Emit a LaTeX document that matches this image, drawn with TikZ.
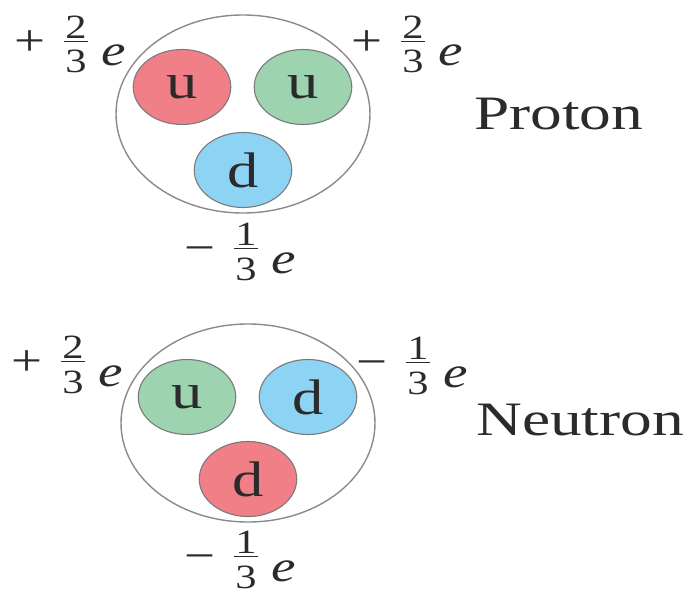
\documentclass[tikz,border=0pt]{standalone}
\usepackage{fontspec}
\setmainfont{Liberation Serif}
\usetikzlibrary{shapes.geometric}
\definecolor{qred}{HTML}{F07F88}
\definecolor{qgreen}{HTML}{9DD3AE}
\definecolor{qblue}{HTML}{8DD4F4}
\definecolor{ink}{HTML}{2B2B2B}
\definecolor{rim}{HTML}{8A8A8A}
\definecolor{qrim}{HTML}{7A7A7A}
% stacked fraction: numerator, bar, denominator; baseline = denominator baseline
\newcommand{\stackfrac}[2]{{\fontsize{34}{34}\selectfont
  \raisebox{-7pt}{\vbox{\hbox to 19pt{\hss #1\hss}\kern3pt\hrule height 0.8pt\kern8.5pt\hbox to 19pt{\hss #2\hss}}}}}
\newcommand{\chg}[3]{{\fontsize{44}{50}\selectfont\raisebox{10.5pt}{#1}\hspace{15pt}\stackfrac{#2}{#3}\hspace{11pt}\textit{e}}}
\begin{document}
\begin{tikzpicture}[x=1pt,y=-1pt,
  hadron/.style={ellipse, draw=rim, line width=1.4pt, minimum width=254pt, minimum height=198pt, inner sep=0pt},
  quark/.style={ellipse, draw=qrim, line width=1.1pt, minimum width=78pt, minimum height=75pt, inner sep=0pt, xscale=1.25, text=ink, font=\fontsize{50}{56}\selectfont},
  charge/.style={anchor=base west, xscale=1.25, text=ink, inner sep=0pt},
  title/.style={anchor=base west, xscale=1.32, text=ink, inner sep=0pt, font=\fontsize{48}{54}\selectfont}]
\useasboundingbox (0,0) rectangle (690,596);
% Proton
\node[hadron] (p) at (243,114) {};
\node[quark, fill=qred] (pu1) at (182,87) {u};
\node[quark, fill=qgreen] (pu2) at (303,87) {u};
\node[quark, fill=qblue] (pd) at (243,170) {d};
\node[charge] (pc1) at (14,66) {\chg{+}{2}{3}};
\node[charge] (pc2) at (351,66) {\chg{+}{2}{3}};
\node[charge] (pc3) at (184,273) {\chg{−}{1}{3}};
\node[title] (pt) at (474,130) {Proton};
% Neutron
\node[hadron] (n) at (248,423) {};
\node[quark, fill=qgreen] (nu) at (187,397) {u};
\node[quark, fill=qblue] (nd1) at (308,397) {d};
\node[quark, fill=qred] (nd2) at (248,479) {d};
\node[charge] (nc1) at (11,386) {\chg{+}{2}{3}};
\node[charge] (nc2) at (356,387) {\chg{−}{1}{3}};
\node[charge] (nc3) at (184,581) {\chg{−}{1}{3}};
\node[title] (nt) at (476,435) {Neutron};
\end{tikzpicture}
\end{document}
